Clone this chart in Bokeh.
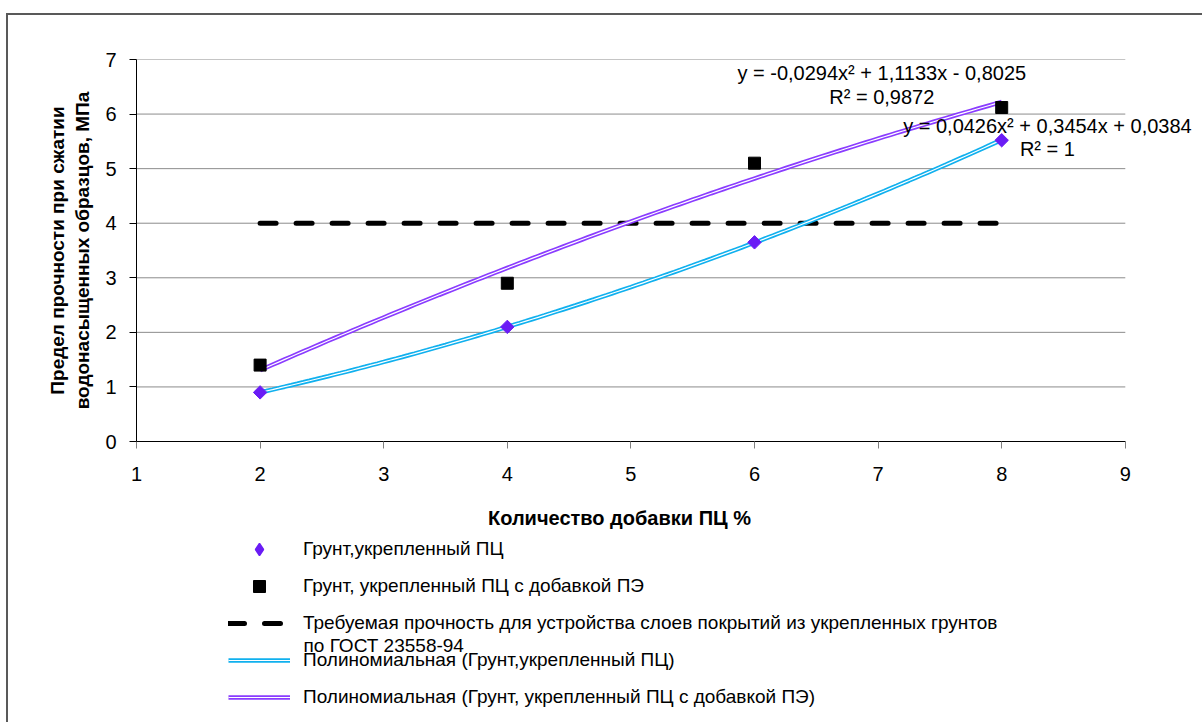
import math
from bokeh.plotting import figure
from bokeh.layouts import column
from bokeh.models import Legend, LegendItem, Label, FixedTicker, Range1d
from bokeh.embed import file_html
from bokeh.resources import INLINE
import numpy as np

# ---- data ----
additive_pct = [2, 4, 6, 8]
strength_pc = [0.90, 2.10, 3.65, 5.52]          # Грунт, укрепленный ПЦ
strength_pc_pe = [1.40, 2.90, 5.10, 6.12]       # Грунт, укрепленный ПЦ с добавкой ПЭ
required_x = [2, 8]
required_y = [4, 4]
# trendline coefficients as printed on the chart (a, b, c) for y = a x^2 + b x + c
coef_pc = [0.0426, 0.3454, 0.0384]
coef_pc_pe = [-0.0294, 1.1133, -0.8025]
eq_pc = ["y = 0,0426x² + 0,3454x + 0,0384", "R² = 1"]
eq_pc_pe = ["y = -0,0294x² + 1,1133x - 0,8025", "R² = 0,9872"]
x_ticks = [1, 2, 3, 4, 5, 6, 7, 8, 9]
y_ticks = [0, 1, 2, 3, 4, 5, 6, 7]
x_title = "Количество добавки ПЦ %"
y_title = "Предел прочности при сжатии\nводонасыщенных образцов, МПа"
legend_labels = [
    "Грунт,укрепленный ПЦ",
    "Грунт, укрепленный ПЦ с добавкой ПЭ",
    "Требуемая прочность для устройства слоев покрытий из укрепленных грунтов",
    "Полиномиальная (Грунт,укрепленный ПЦ)",
    "Полиномиальная (Грунт, укрепленный ПЦ с добавкой ПЭ)",
]
legend_label_cont = "по ГОСТ 23558-94"

FONT = "Liberation Sans"
W = 1194
HA, HB = 521, 186
FRAME_L, FRAME_T, FRAME_B = 128, 44, 426
X_END = 1 + (W - FRAME_L) / 123.6   # frame runs past 9 so the equation text is not cut

CYAN = "#10b0ee"
VIOLET = "#8a3cff"
DIAMOND = "#6a1cf5"

# ---------------- main plot ----------------
p = figure(width=W, height=HA, output_backend="svg", toolbar_location=None,
           x_range=Range1d(1, X_END), y_range=Range1d(0, 7),
           min_border_left=FRAME_L, min_border_right=0,
           min_border_top=FRAME_T, min_border_bottom=HA - FRAME_B)
p.outline_line_color = None
p.background_fill_color = "white"
p.border_fill_color = "white"

p.xaxis.ticker = FixedTicker(ticks=x_ticks)
p.yaxis.ticker = FixedTicker(ticks=y_ticks)
p.xaxis.bounds = (x_ticks[0], x_ticks[-1])
for ax in (p.xaxis[0], p.yaxis[0]):
    ax.axis_line_color = "black"
    ax.axis_line_width = 1
    ax.major_tick_in = 0
    ax.major_tick_out = 7
    ax.minor_tick_line_color = None
    ax.major_label_text_font = FONT
    ax.major_label_text_font_size = "20px"
    ax.major_label_text_color = "black"
    ax.axis_label_text_font = FONT
    ax.axis_label_text_font_size = "19px"
    ax.axis_label_text_font_style = "bold"
    ax.axis_label_text_color = "black"
p.xaxis.axis_label_text_font_size = "20px"
p.xaxis.major_tick_line_color = "#808080"
p.yaxis.major_tick_line_color = "black"
p.xaxis.major_label_standoff = 18
p.yaxis.major_label_standoff = 13
# trailing no-break spaces keep the title centred under the 1..9 axis span
p.xaxis.axis_label = x_title + "\u00a0" * 18
p.yaxis.axis_label = y_title
p.xaxis.axis_label_standoff = 23
p.yaxis.axis_label_standoff = 9
p.xgrid.grid_line_color = None
p.ygrid.grid_line_color = None
grid_y = y_ticks[1:]
p.segment(x0=[x_ticks[0]] * len(grid_y), x1=[x_ticks[-1]] * len(grid_y),
          y0=grid_y, y1=grid_y, line_color="#8c8c8c", line_width=1)

# trendlines (from printed coefficients)
xs = np.linspace(2, 8, 121)
y_pc = coef_pc[0] * xs**2 + coef_pc[1] * xs + coef_pc[2]
y_pe = coef_pc_pe[0] * xs**2 + coef_pc_pe[1] * xs + coef_pc_pe[2]

DASH = dict(line_color="black", line_width=5, line_dash="16 20", line_cap="round")
p.line(required_x, required_y, **DASH)
p.line(xs, y_pc, line_color=CYAN, line_width=4.5)
p.line(xs, y_pc, line_color="white", line_width=1.2)
p.line(xs, y_pe, line_color=VIOLET, line_width=4.5)
p.line(xs, y_pe, line_color="white", line_width=1.2)

DIA = dict(marker="square", angle=math.pi / 4, fill_color=DIAMOND, line_color=DIAMOND)
SQ = dict(marker="square", fill_color="black", line_color="black")
p.scatter(additive_pct, strength_pc, size=9.5, **DIA)
p.scatter(additive_pct, strength_pc_pe, size=12, **SQ)

def eq_label(x, y, text):
    p.add_layout(Label(x=x, y=y, text=text, text_font=FONT, text_font_size="20px",
                       text_align="center", text_baseline="middle", text_color="black"))

eq_label(7.03, 6.76, eq_pc_pe[0])
eq_label(7.03, 6.31, eq_pc_pe[1])
eq_label(8.37, 5.79, eq_pc[0])
eq_label(8.37, 5.36, eq_pc[1])

# ---------------- legend panel (frame aligned with the plot above) ----------------
q = figure(width=W, height=HB, output_backend="svg", toolbar_location=None,
           x_range=Range1d(FRAME_L, W), y_range=Range1d(0, HB),
           x_axis_location=None, y_axis_location=None,
           min_border=0, min_border_left=FRAME_L, min_border_right=0,
           min_border_top=0, min_border_bottom=0)
q.outline_line_color = None
q.xgrid.grid_line_color = None
q.ygrid.grid_line_color = None
q.background_fill_color = "white"
q.border_fill_color = "white"

# legend-only renderers: points placed off the visible range so nothing is drawn in the panel
off = dict(x=[-1000, -999], y=[-1000, -1000])
r_d = q.scatter(x=off["x"], y=off["y"], marker="diamond", size=12,
                fill_color=DIAMOND, line_color=DIAMOND, line_width=1.5)
r_s = q.scatter(x=off["x"], y=off["y"], size=12, **SQ)
r_req = q.line(x=off["x"], y=off["y"], **DASH)
r_t1a = q.line(x=off["x"], y=off["y"], line_color=CYAN, line_width=4.5)
r_t1b = q.line(x=off["x"], y=off["y"], line_color="white", line_width=1.2)
r_t2a = q.line(x=off["x"], y=off["y"], line_color=VIOLET, line_width=4.5)
r_t2b = q.line(x=off["x"], y=off["y"], line_color="white", line_width=1.2)

legend = Legend(items=[
    LegendItem(label=legend_labels[0], renderers=[r_d]),
    LegendItem(label=legend_labels[1], renderers=[r_s]),
    LegendItem(label=legend_labels[2], renderers=[r_req]),
    LegendItem(label=legend_labels[3], renderers=[r_t1a, r_t1b]),
    LegendItem(label=legend_labels[4], renderers=[r_t2a, r_t2b]),
], location=(220 - FRAME_L, 10), orientation="vertical",
    glyph_width=62, glyph_height=30, spacing=7, label_standoff=13,
    label_text_font=FONT, label_text_font_size="19px", label_text_color="black",
    padding=0, margin=0, border_line_color=None, background_fill_alpha=0)
q.add_layout(legend, "center")

q.add_layout(Label(x=295, y=77, text=legend_label_cont,
                   text_font=FONT, text_font_size="19px",
                   text_align="left", text_baseline="middle", text_color="black"))

layout = column(p, q, spacing=0,
                styles={"border-top": "2px solid #595959", "border-left": "2px solid #595959",
                        "margin-top": "13px", "margin-left": "6px"})

open("out.html", "w").write(file_html(layout, INLINE))
